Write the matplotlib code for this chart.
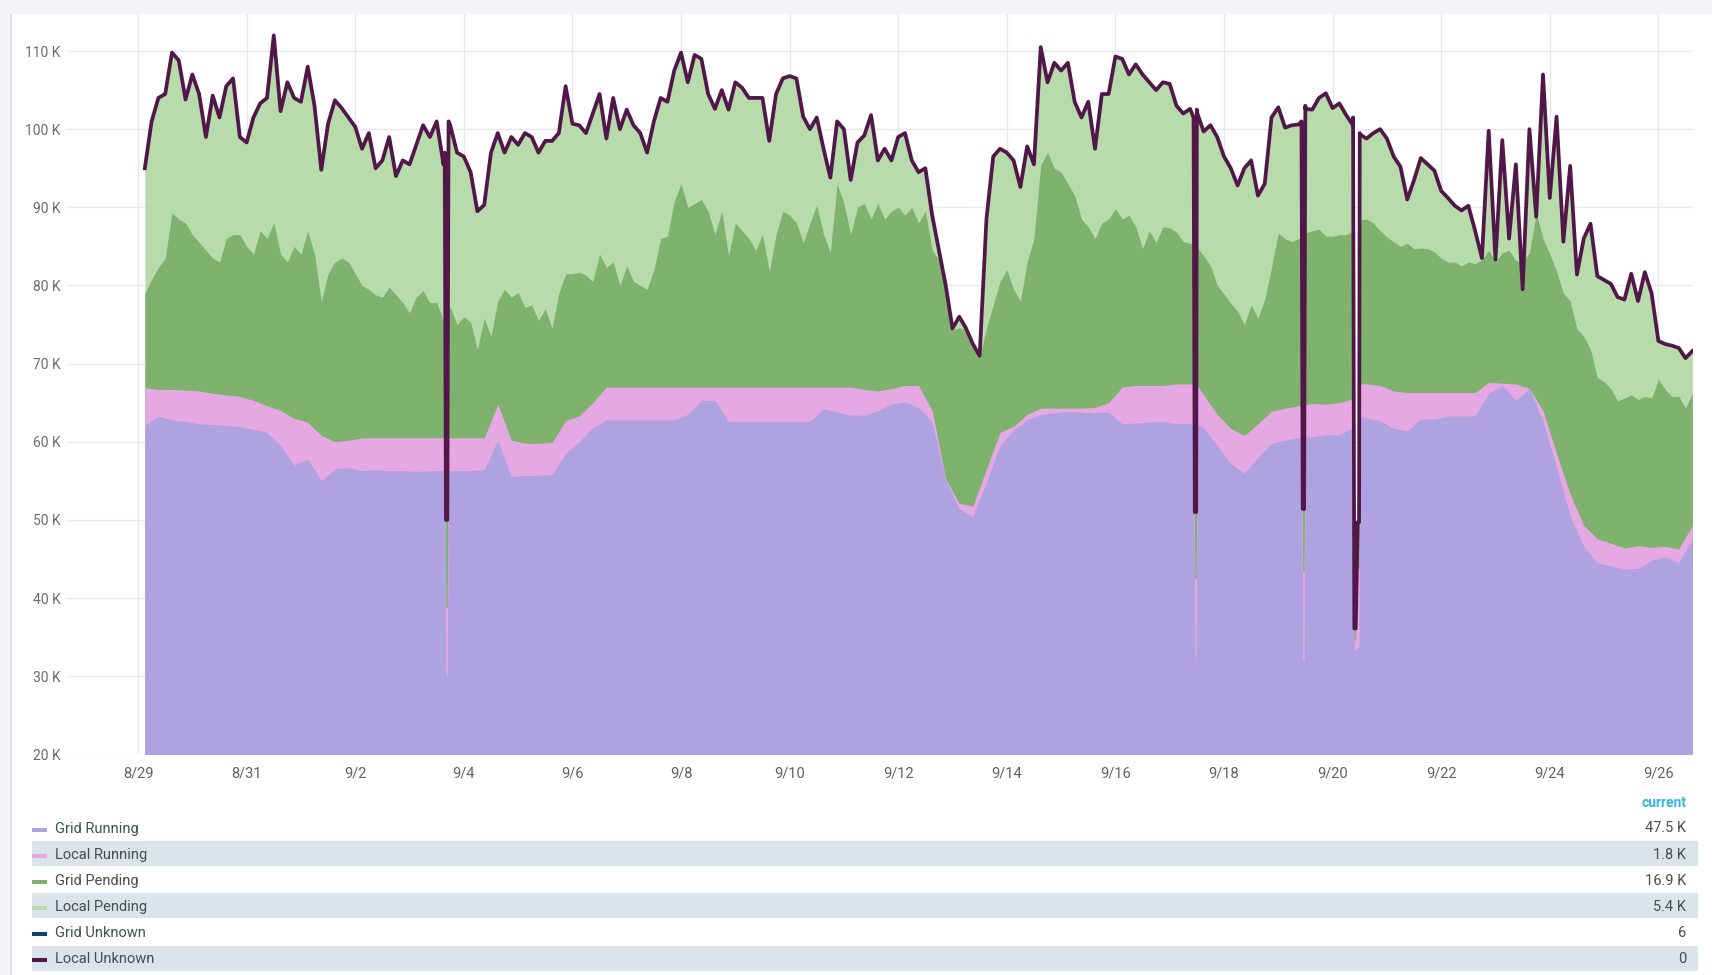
import numpy as np
import matplotlib.pyplot as plt
from matplotlib.patches import Rectangle

plt.rcParams['font.family'] = ['Roboto', 'DejaVu Sans']

W, H = 1712, 975

# sample times, hours after 8/29 00:00
start = np.datetime64('2019-08-29T00:00')
hours_3h = 3 + 3 * np.arange(229)
hours_6h = 3 + 6 * np.arange(115)

# stacked levels, in thousands of jobs
# top of the whole stack (where the Local Unknown line sits), every 3 h
total_level = np.array([
    95.0, 101.0, 104.0, 104.5, 109.8, 108.8, 103.8, 107.0, 104.5, 99.0,
    104.3, 101.5, 105.5, 106.5, 99.0, 98.3, 101.5, 103.3, 104.0, 112.0,
    102.3, 106.0, 104.0, 103.5, 108.0, 103.0, 94.8, 100.7, 103.7, 102.7,
    101.5, 100.3, 97.5, 99.5, 95.0, 96.0, 99.0,
    94.0, 96.0, 95.5, 98.0, 100.5, 99.0, 101.0, 95.5, 100.5, 97.0,
    96.5, 94.5, 89.5, 90.3, 97.0, 99.5, 97.0, 99.0, 98.0, 99.5,
    99.0, 97.0, 98.5, 98.5, 99.5, 105.5, 100.7, 100.5, 99.5, 102.0,
    104.5, 98.8, 104.0, 100.0, 102.5, 100.5, 99.5, 97.0,
    101.0, 104.0, 103.5, 107.5, 109.8, 106.0, 109.5, 109.0, 104.5, 102.6,
    105.0, 102.5, 106.0, 105.3, 104.0, 104.0, 104.0, 98.5, 104.5, 106.5,
    106.8, 106.5, 101.6, 100.0, 101.5, 97.5, 93.8, 101.0, 100.0, 93.5,
    98.3, 99.2, 101.8, 96.0, 97.5, 96.0, 99.0, 99.5,
    96.0, 94.5, 95.0, 89.0, 84.5, 80.0, 74.5, 76.0, 74.5, 72.5,
    71.0, 88.5, 96.5, 97.5, 97.0, 96.0, 92.6, 97.8, 95.5, 110.5,
    106.0, 108.5, 107.5, 108.5, 103.5, 101.5, 103.5, 97.5, 104.5, 104.5,
    109.3, 109.0, 107.0, 108.3, 107.0, 106.0, 105.0, 106.0,
    105.8, 103.0, 102.0, 102.6, 102.5, 99.7, 100.5, 99.0, 96.5, 95.0,
    92.8, 95.0, 96.0, 91.5, 93.0, 101.5, 102.8, 100.2, 100.5, 100.6,
    102.6, 102.5, 104.0, 104.6, 102.7, 103.3, 101.8, 100.5, 99.5, 98.8,
    99.5, 100.0, 98.8, 96.5, 95.2, 91.0, 93.5, 96.3, 95.5,
    94.7, 92.1, 91.2, 90.2, 89.6, 90.2, 87.0, 83.5, 99.8, 83.3,
    98.6, 86.0, 95.5, 79.5, 100.0, 88.8, 107.0, 91.2, 101.6, 85.6,
    95.3, 81.4, 86.0, 87.9, 81.2, 80.7, 80.2, 78.5, 78.2, 81.5,
    78.0, 81.7, 79.0, 72.9, 72.5, 72.3, 72.0, 70.7, 71.6,
])

# top of Grid Pending (Grid Running + Local Running + Grid Pending), every 3 h
grid_pending_top = np.array([
    79.0, 80.8, 82.3, 83.5, 89.3, 88.5, 88.0, 86.5, 85.5, 84.5,
    83.5, 83.0, 86.0, 86.5, 86.5, 85.0, 84.0, 87.0, 86.0, 88.0,
    84.0, 83.0, 85.0, 84.0, 87.0, 84.0, 78.0, 81.5, 83.0, 83.5,
    83.0, 81.5, 80.0, 79.5, 78.8, 78.5, 79.8,
    78.8, 77.8, 76.5, 78.5, 79.3, 77.8, 77.8, 75.5, 77.2, 75.0,
    76.0, 75.3, 71.8, 75.8, 73.5, 78.0, 79.5, 78.5, 79.1, 77.2,
    77.5, 75.5, 77.0, 74.5, 79.0, 81.5, 81.5, 81.7, 81.3, 80.5,
    84.0, 82.3, 83.0, 80.0, 82.5, 80.5, 80.0, 79.5,
    82.0, 86.0, 86.3, 90.8, 93.0, 90.0, 90.5, 91.0, 89.5, 86.5,
    89.5, 83.8, 88.0, 87.0, 86.0, 84.5, 86.5, 81.8, 86.5, 89.5,
    89.0, 88.0, 85.5, 88.0, 90.3, 86.5, 84.3, 93.0, 90.5, 86.5,
    90.0, 90.5, 88.5, 90.5, 88.5, 89.5, 90.0, 89.0,
    90.0, 88.0, 89.5, 84.5, 83.3, 79.5, 74.3, 74.6, 74.3, 72.3,
    70.8, 74.5, 77.5, 80.5, 82.0, 79.5, 78.0, 83.0, 86.0, 95.5,
    97.0, 95.0, 94.5, 93.0, 91.5, 88.5, 87.5, 86.0, 88.0, 88.5,
    89.8, 88.5, 89.0, 87.5, 84.7, 87.0, 85.5, 87.5,
    87.4, 86.8, 85.6, 85.4, 84.5, 83.8, 82.5, 80.0, 78.9, 77.7,
    76.7, 75.0, 77.5, 75.8, 78.2, 82.3, 86.7, 86.0, 85.6, 86.0,
    86.7, 87.0, 87.2, 86.3, 86.3, 86.5, 86.5, 87.0, 88.4, 88.5,
    88.0, 87.0, 86.2, 85.6, 85.0, 85.4, 84.7, 84.8, 84.7,
    84.3, 83.5, 83.0, 83.0, 82.5, 83.0, 82.8, 83.3, 84.5, 83.0,
    84.2, 84.5, 83.2, 83.0, 84.2, 89.2, 86.0, 84.0, 81.8, 79.0,
    78.0, 74.4, 73.5, 71.8, 68.2, 67.7, 66.8, 65.2, 65.6, 66.0,
    65.4, 65.8, 65.6, 68.0, 66.7, 65.8, 65.8, 64.3, 66.2,
])

# top of Local Running (Grid Running + Local Running), every 6 h
local_running_top = np.array([
    66.9, 66.7, 66.7, 66.6, 66.5, 66.2, 66.0, 65.8, 65.3, 64.6,
    64.0, 63.0, 62.5, 60.8, 60.0, 60.2, 60.5, 60.5, 60.5,
    60.5, 60.5, 60.5, 60.5, 60.5, 60.5, 60.5, 64.8, 60.2, 59.8,
    59.8, 59.9, 62.7, 63.3, 65.0, 67.0, 67.0, 67.0, 67.0,
    67.0, 67.0, 67.0, 67.0, 67.0, 67.0, 67.0, 67.0, 67.0, 67.0,
    67.0, 67.0, 67.0, 67.0, 67.0, 66.7, 66.5, 66.8, 67.2,
    67.2, 64.0, 55.2, 52.1, 51.8, 56.5, 61.2, 62.0, 63.5, 64.3,
    64.3, 64.3, 64.3, 64.4, 65.0, 67.0, 67.2, 67.2, 67.2,
    67.4, 67.4, 66.0, 63.5, 61.7, 60.8, 62.3, 63.9, 64.3, 64.6,
    64.9, 64.8, 65.0, 65.5, 67.4, 67.2, 66.5, 66.3, 66.3,
    66.3, 66.3, 66.3, 66.3, 67.6, 67.5, 67.4, 66.8, 64.0, 58.5,
    53.3, 49.3, 47.6, 47.0, 46.4, 46.7, 46.5, 46.6, 46.3, 49.3,
])

# Grid Running, every 6 h
grid_running = np.array([
    62.1, 63.3, 62.8, 62.6, 62.3, 62.2, 62.1, 61.9, 61.6, 61.2,
    59.5, 57.0, 57.8, 55.0, 56.5, 56.7, 56.3, 56.4, 56.3,
    56.3, 56.2, 56.3, 56.3, 56.3, 56.3, 56.4, 60.2, 55.5, 55.7,
    55.7, 55.8, 58.5, 60.0, 61.8, 62.8, 62.8, 62.8, 62.8,
    62.8, 62.8, 63.5, 65.3, 65.3, 62.6, 62.6, 62.6, 62.6, 62.6,
    62.6, 62.6, 64.2, 63.8, 63.4, 63.4, 64.0, 64.8, 65.1,
    64.4, 62.5, 55.0, 51.4, 50.4, 54.8, 59.5, 61.5, 62.8, 63.5,
    63.7, 63.9, 63.8, 63.7, 63.8, 62.3, 62.4, 62.5, 62.6,
    62.3, 62.3, 61.8, 59.5, 57.2, 56.0, 58.0, 59.8, 60.2, 60.5,
    60.6, 60.9, 60.9, 61.8, 63.0, 62.7, 61.7, 61.4, 62.9,
    62.9, 63.3, 63.3, 63.3, 66.2, 67.2, 65.3, 66.8, 62.6, 56.7,
    50.5, 46.6, 44.5, 44.1, 43.7, 43.8, 44.8, 45.3, 44.5, 47.5,
])

# short drop-outs (hours after 8/29 00:00): level before, dip, dip, level after
dip_hours = [135.55, 136.1, 136.7, 137.25,
             466.55, 467.1, 467.7, 468.25,
             514.25, 514.8, 515.4, 515.95,
             537.05, 537.6, 538.2, 539.1, 539.7, 540.25]
dip_total = [97.0, 50.0, 50.0, 101.0,
             101.5, 51.0, 51.0, 102.0,
             101.0, 51.4, 51.4, 103.0,
             101.5, 36.1, 36.1, 49.7, 49.7, 99.3]
dip_grid_pending_top = [76.5, 50.0, 50.0, 77.0,
                        85.2, 51.0, 51.0, 84.8,
                        86.2, 51.4, 51.4, 86.7,
                        87.0, 36.1, 36.1, 49.7, 49.7, 88.4]
dip_local_running_top = [60.5, 38.8, 38.8, 60.5,
                         67.4, 42.5, 42.5, 67.2,
                         64.7, 43.3, 43.3, 64.8,
                         65.3, 34.6, 34.6, 43.8, 43.8, 67.4]
dip_grid_running = [56.3, 30.1, 30.1, 56.3,
                    62.3, 32.5, 32.5, 62.2,
                    60.5, 32.0, 32.0, 60.6,
                    61.7, 33.3, 33.3, 33.7, 33.7, 63.3]

series_names = ['Grid Running', 'Local Running', 'Grid Pending',
                'Local Pending', 'Grid Unknown', 'Local Unknown']
series_colors = ['#AEA2E0', '#E5A8E2', '#7EB26D', '#B7DBAB', '#0A437C', '#511749']
current_values = ['47.5 K', '1.8 K', '16.9 K', '5.4 K', '6', '0']

y_ticks = [20, 30, 40, 50, 60, 70, 80, 90, 100, 110]
tick_days = np.arange(0, 29, 2)
x_tick_labels = ['8/29', '8/31', '9/2', '9/4', '9/6', '9/8', '9/10', '9/12',
                 '9/14', '9/16', '9/18', '9/20', '9/22', '9/24', '9/26']


def to_time(h):
    return start + np.round(np.asarray(h) * 60).astype(np.int64).astype('timedelta64[m]')


def with_dips(hours, level, dip_level):
    h = np.concatenate([hours, dip_hours])
    v = np.concatenate([level, dip_level])
    order = np.argsort(h, kind='stable')
    return to_time(h[order]), v[order]


fig = plt.figure(figsize=(W / 100, H / 100), dpi=100)
fig.patch.set_facecolor('#f4f5f8')


def px_rect(x0, y0, x1, y1, z=1, **kw):
    fig.add_artist(Rectangle((x0 / W, 1 - y1 / H), (x1 - x0) / W, (y1 - y0) / H,
                             transform=fig.transFigure, lw=0, zorder=z, **kw))


# white panel behind everything
px_rect(10, 14, W, H, z=-2, facecolor='white')
px_rect(10, 14, 11.5, H, z=-1, facecolor='#dde2ea')

ax = fig.add_axes([67 / W, 1 - 754.3 / H, (1693 - 67) / W, (754.3 - 14) / H])
ax.set_facecolor('white')
ax.set_axisbelow(True)

# stack painted from the top layer down
t_tot, v_tot = with_dips(hours_3h, total_level, dip_total)
ax.fill_between(t_tot, 0, v_tot, color=series_colors[3], lw=0)
t_gp, v_gp = with_dips(hours_3h, grid_pending_top, dip_grid_pending_top)
ax.fill_between(t_gp, 0, v_gp, color=series_colors[2], lw=0)
t_lr, v_lr = with_dips(hours_6h, local_running_top, dip_local_running_top)
ax.fill_between(t_lr, 0, v_lr, color=series_colors[1], lw=0)
t_gr, v_gr = with_dips(hours_6h, grid_running, dip_grid_running)
ax.fill_between(t_gr, 0, v_gr, color=series_colors[0], lw=0)
ax.plot(t_tot, v_tot, color=series_colors[5], lw=2.7, solid_joinstyle='round', zorder=5)

ax.set_xlim(to_time(-31.4), to_time(687.3))
ax.set_ylim(20, 114.74)
ax.set_yticks(y_ticks)
ax.set_yticklabels([f'{v} K' for v in y_ticks])
ax.set_xticks(to_time(tick_days * 24))
ax.set_xticklabels(x_tick_labels)
ax.tick_params(axis='y', length=0, pad=4.5, labelsize=10, labelcolor='#6c6c70')
ax.tick_params(axis='x', length=0, pad=8.5, labelsize=10.5, labelcolor='#5f6066')
ax.grid(True, color='#e8e8ea', lw=1.0)
for s in ax.spines.values():
    s.set_visible(False)

# legend table
fig.text(1686 / W, 1 - 807 / H, 'current', ha='right', va='baseline',
         fontsize=10, fontweight='bold', color='#33b5e5')
for i, (name, col, cur) in enumerate(zip(series_names, series_colors, current_values)):
    yc = 827.5 + 26.1 * i
    if i % 2 == 1:
        px_rect(32, yc - 12.5, 1698, yc + 12.5, facecolor='#dde3ec')
    px_rect(32, yc, 47, yc + 4, facecolor=col)
    fig.text(55 / W, 1 - (yc + 5) / H, name, ha='left', va='baseline',
             fontsize=10.5, color='#464c54')
    fig.text(1686 / W, 1 - (yc + 5) / H, cur, ha='right', va='baseline',
             fontsize=10.5, color='#464c54')

fig.savefig('out.png', dpi=100, facecolor=fig.get_facecolor())
